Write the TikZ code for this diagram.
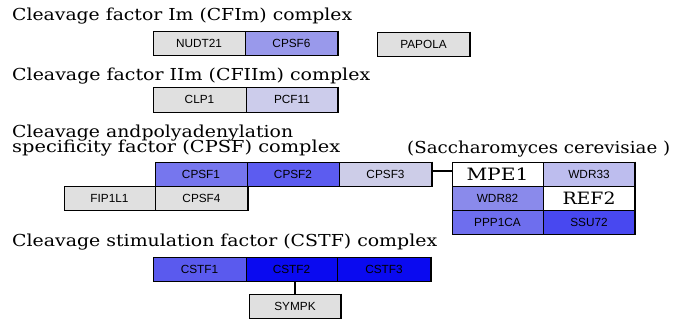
\documentclass[tikz,border=0pt]{standalone}
\usepackage{fontspec}
\setmainfont{DejaVu Serif}
\setsansfont{Liberation Sans}
\usepackage{graphicx}
\definecolor{gry}{HTML}{E0E0E0}
\definecolor{ccpsfsix}{HTML}{9999EB}
\definecolor{cpcf}{HTML}{CCCCEB}
\definecolor{ccpsfone}{HTML}{7676EE}
\definecolor{ccpsftwo}{HTML}{5C5CF0}
\definecolor{ccpsfthree}{HTML}{CDCDE8}
\definecolor{cwdrthree}{HTML}{BDBDEE}
\definecolor{cwdreight}{HTML}{8A8AEB}
\definecolor{cppp}{HTML}{6E6EEE}
\definecolor{cssu}{HTML}{4848F0}
\definecolor{ccstfone}{HTML}{5A5AEE}
\definecolor{ccstftwo}{HTML}{0A0AF0}
\newcommand\bx[7]{\node[box, fill=#6, minimum width={(#4-#2)*1pt}, minimum height={(#5-#3)*1pt}] (#1) at ({(#2+#4)/2},{(#3+#5)/2}) {#7};}
\newcommand\fitw[2]{\resizebox{#1}{\height}{#2}}
\begin{document}
\begin{tikzpicture}[x=1pt,y=-1pt,
  box/.style={draw=black, line width=0.6pt, inner sep=0pt, font=\sffamily\fontsize{11.8}{13}\selectfont},
  title/.style={anchor=base west, inner sep=0pt, font=\rmfamily\fontsize{16.5}{18}\selectfont},
  shade/.style={line width=1.8pt, line cap=butt},
  conn/.style={line width=1.3pt}]
\useasboundingbox[fill=white] (0,0) rectangle (684,327);
% titles
\node[title] (t1) at (12,20) {\fitw{340pt}{Cleavage factor Im (CFIm) complex}};
\node[title] (t2) at (12,80) {\fitw{358pt}{Cleavage factor IIm (CFIIm) complex}};
\node[title] (t3a) at (12,137) {\fitw{281pt}{Cleavage andpolyadenylation}};
\node[title] (t3b) at (12,152) {\fitw{328pt}{specificity factor (CPSF) complex}};
\node[title] (t5) at (407,153) {\fitw{263pt}{(Saccharomyces cerevisiae )}};
\node[title] (t4) at (12,246) {\fitw{425pt}{Cleavage stimulation factor (CSTF) complex}};
% CFIm
\bx{NUDT21}{153}{31}{245}{55}{gry}{NUDT21}
\bx{CPSF6}{245}{31}{338}{55}{ccpsfsix}{CPSF6}
\bx{PAPOLA}{377}{32}{470}{56}{gry}{PAPOLA}
% CFIIm
\bx{CLP1}{153}{87}{246}{112}{gry}{CLP1}
\bx{PCF11}{246}{87}{338}{112}{cpcf}{PCF11}
% CPSF
\bx{CPSF1}{155}{162}{247}{186}{ccpsfone}{CPSF1}
\bx{CPSF2}{247}{162}{339}{186}{ccpsftwo}{CPSF2}
\bx{CPSF3}{339}{162}{432}{186}{ccpsfthree}{CPSF3}
\bx{FIP1L1}{64}{186}{155}{210}{gry}{FIP1L1}
\bx{CPSF4}{155}{186}{248}{210}{gry}{CPSF4}
% yeast
\bx{MPE1}{452}{162}{543}{186}{white}{\rmfamily\fitw{62pt}{\fontsize{17}{19}\selectfont MPE1}}
\bx{WDR33}{543}{162}{635}{186}{cwdrthree}{WDR33}
\bx{WDR82}{452}{186}{543}{210}{cwdreight}{WDR82}
\bx{REF2}{543}{186}{635}{210}{white}{\rmfamily\fitw{53pt}{\fontsize{17}{19}\selectfont REF2}}
\bx{PPP1CA}{452}{210}{543}{234}{cppp}{PPP1CA}
\bx{SSU72}{543}{210}{635}{234}{cssu}{SSU72}
% CSTF
\bx{CSTF1}{153}{257}{246}{281}{ccstfone}{CSTF1}
\bx{CSTF2}{246}{257}{337}{281}{ccstftwo}{CSTF2}
\bx{CSTF3}{337}{257}{431}{281}{ccstftwo}{CSTF3}
\bx{SYMPK}{249}{294}{341}{318}{gry}{SYMPK}
% shaded right edges
\foreach \n in {CPSF6,PAPOLA,PCF11,CPSF3,CPSF4,WDR33,REF2,SSU72,CSTF3,SYMPK}
  \draw[shade] (\n.north east) -- (\n.south east);
% connectors
\draw[conn] ([yshift=3pt]CPSF3.east) -- ([yshift=3pt]MPE1.west);
\draw[conn] (SYMPK.north) -- (SYMPK.north |- CSTF2.south);
\end{tikzpicture}
\end{document}
